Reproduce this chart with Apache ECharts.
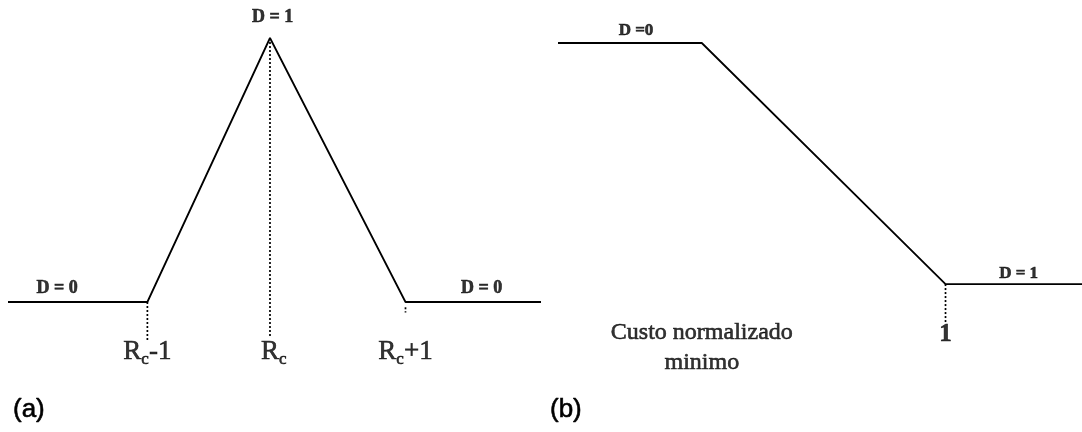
<!DOCTYPE html>
<html>
<head>
<meta charset="utf-8">
<script src="https://cdn.jsdelivr.net/npm/echarts@6/dist/echarts.min.js"></script>
<style>
html,body{margin:0;padding:0;background:#fff;}
#chart{width:1082px;height:432px;}
</style>
</head>
<body>
<div id="chart"></div>
<script>
// ---------- Panel (a): triangular membership ----------
const xA = [-2.08, -1, -0.05, 1, 2.05];
const yA = [0, 0, 1, 0, 0];
const guidesA = [
  [[-1, 0], [-1, -0.145]],
  [[-0.05, 1], [-0.05, -0.136]],
  [[1, -0.02], [1, -0.04]]
];
const tickPosA = [-1, -0.02, 1];
const tickSuffixA = ['-1', '', '+1'];
const tickYA = -0.19;
const stateTextA = ['D = 0', 'D = 1', 'D = 0'];
const stateXA = [-1.70, -0.03, 1.59];
const stateYA = [0.053, 1.08, 0.05];

// ---------- Panel (b): decreasing ramp ----------
const xB = [-0.59, 0, 1, 1.56];
const yB = [0, 0, 1, 1];
const guidesB = [
  [[1, 1], [1, 1.16]]
];
const stateTextB = ['D =0', 'D = 1'];
const stateXB = [-0.27, 1.30];
const stateYB = [-0.053, 0.955];
const tickTextB = ['1'];
const tickPosB = [1];
const tickYB = 1.21;
const axisNoteB = 'Custo normalizado\nminimo';
const axisNoteXB = 0.0;
const axisNoteYB = 1.265;

const panelTitles = ['(a)', '(b)'];

const ink = '#000';
const serif = '"Liberation Serif", "Times New Roman", serif';
const sans = '"Liberation Sans", Arial, sans-serif';

const hiddenAxis = {show: false, splitLine: {show: false}};
const heavy = {textBorderColor: ink, textBorderWidth: 0.6};

function guideSeries(guides, xi, yi) {
  return guides.map(g => ({
    type: 'line', xAxisIndex: xi, yAxisIndex: yi,
    data: g, symbol: 'none', silent: true,
    lineStyle: {color: ink, width: 1.7, type: [2, 2]}
  }));
}

function labelSeries(points, xi, yi, labelOpt) {
  return {
    type: 'scatter', xAxisIndex: xi, yAxisIndex: yi,
    symbolSize: 0, silent: true, clip: false,
    data: points,
    label: Object.assign({show: true, position: 'inside', color: ink}, labelOpt)
  };
}

const titleStyle = Object.assign({fontFamily: sans, fontSize: 26, fontWeight: 'normal', color: ink}, heavy);

const option = {
  animation: false,
  backgroundColor: '#fff',
  title: [
    {text: panelTitles[0], left: 8, top: 392, textStyle: titleStyle},
    {text: panelTitles[1], left: 545, top: 392, textStyle: titleStyle}
  ],
  grid: [
    {left: 8, right: 541, top: 11.6, bottom: 77.2},
    {left: 558, right: 0, top: 18.9, bottom: 63.6}
  ],
  xAxis: [
    Object.assign({type: 'value', gridIndex: 0, min: -2.08, max: 2.05}, hiddenAxis),
    Object.assign({type: 'value', gridIndex: 1, min: -0.59, max: 1.56}, hiddenAxis)
  ],
  yAxis: [
    Object.assign({type: 'value', gridIndex: 0, min: -0.2, max: 1.1}, hiddenAxis),
    Object.assign({type: 'value', gridIndex: 1, min: -0.1, max: 1.35, inverse: true}, hiddenAxis)
  ],
  series: [
    {type: 'line', xAxisIndex: 0, yAxisIndex: 0, symbol: 'none', silent: true,
     data: xA.map((x, i) => [x, yA[i]]), lineStyle: {color: ink, width: 1.8}},
    ...guideSeries(guidesA, 0, 0),
    labelSeries(tickPosA.map((x, i) => ({value: [x, tickYA], name: tickSuffixA[i]})), 0, 0, {
      formatter: p => '{r|R}{s|c}{r|' + p.name + '}',
      rich: {
        r: Object.assign({fontFamily: serif, fontSize: 27, color: ink}, heavy),
        s: Object.assign({fontFamily: serif, fontSize: 17, color: ink, padding: [14, 0, 0, 0]}, heavy)
      }
    }),
    labelSeries(stateXA.map((x, i) => ({value: [x, stateYA[i]], name: stateTextA[i]})), 0, 0, Object.assign({
      formatter: p => p.name, fontFamily: serif, fontSize: 18, fontWeight: 'bold'
    }, heavy)),
    {type: 'line', xAxisIndex: 1, yAxisIndex: 1, symbol: 'none', silent: true,
     data: xB.map((x, i) => [x, yB[i]]), lineStyle: {color: ink, width: 1.8}},
    ...guideSeries(guidesB, 1, 1),
    labelSeries(stateXB.map((x, i) => ({value: [x, stateYB[i]], name: stateTextB[i]})), 1, 1, Object.assign({
      formatter: p => p.name, fontFamily: serif, fontSize: 17, fontWeight: 'bold'
    }, heavy)),
    labelSeries(tickPosB.map((x, i) => ({value: [x, tickYB], name: tickTextB[i]})), 1, 1, Object.assign({
      formatter: p => p.name, fontFamily: serif, fontSize: 25, fontWeight: 'bold'
    }, heavy)),
    labelSeries([{value: [axisNoteXB, axisNoteYB], name: axisNoteB}], 1, 1, Object.assign({
      formatter: p => p.name, fontFamily: serif, fontSize: 24, lineHeight: 30, align: 'center'
    }, heavy))
  ]
};

const chart = echarts.init(document.getElementById('chart'), null, {renderer: 'canvas'});
chart.setOption(option);
</script>
</body>
</html>
